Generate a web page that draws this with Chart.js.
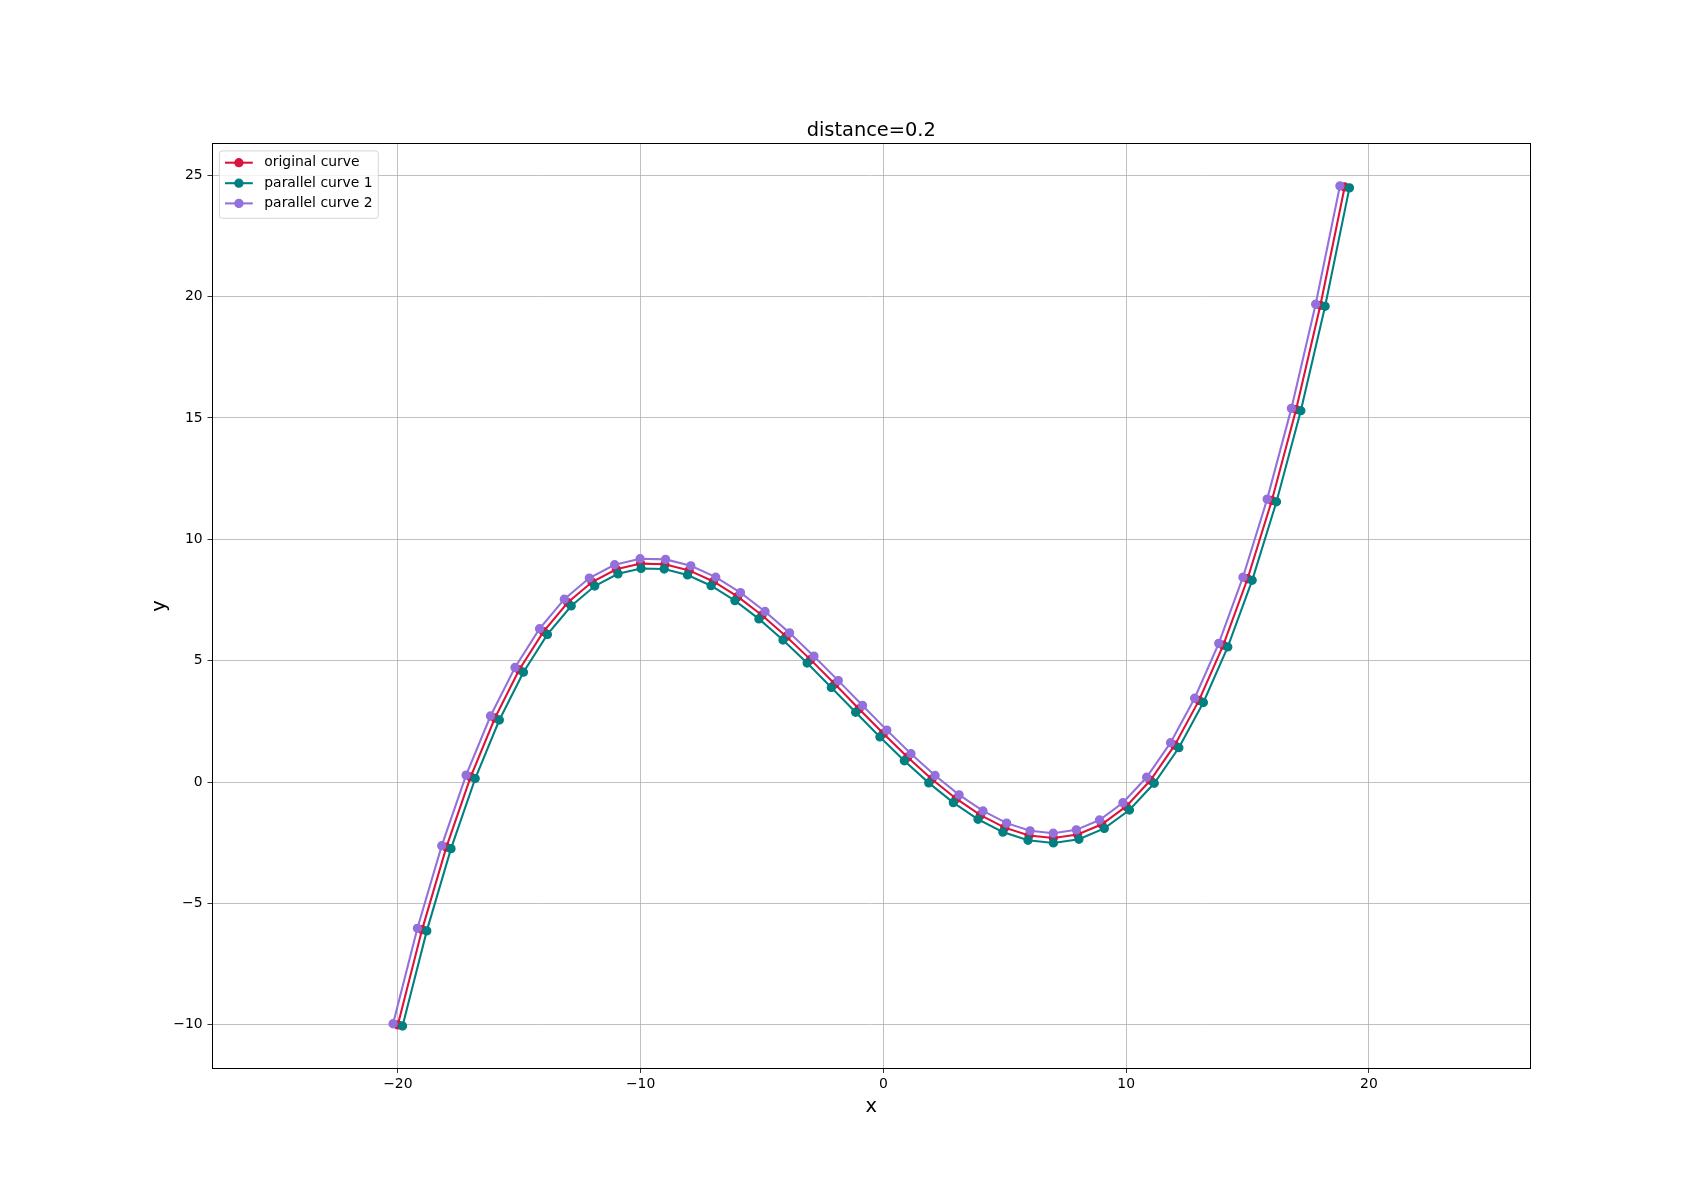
<!DOCTYPE html>
<html>
<head>
<meta charset="utf-8">
<script src="https://cdn.jsdelivr.net/npm/chart.js@4.4.1/dist/chart.umd.min.js"></script>
<style>
  html, body { margin:0; padding:0; background:#fff; }
  canvas { display:block; }
</style>
</head>
<body>
<canvas id="c" width="1700" height="1200"></canvas>
<script>
// === Data ===
const origX = [-20,-19,-18,-17,-16,-15,-14,-13,-12,-11,-10,-9,-8,-7,-6,-5,-4,-3,-2,-1,
               0,1,2,3,4,5,6,7,8,9,10,11,12,13,14,15,16,17,18,19];
const origY = [-10,-6.075,-2.68,0.215,2.64,4.625,6.2,7.395,8.24,8.765,9,8.975,8.72,8.265,7.64,6.875,6.0,5.045,4.04,3.015,
               2,1.025,0.12,-0.685,-1.36,-1.875,-2.2,-2.305,-2.16,-1.735,-1,0.075,1.52,3.365,5.64,8.375,11.6,15.345,19.64,24.515];

const par1X = [-19.805,-18.807,-17.809,-16.813,-15.818,-14.826,-13.838,-12.858,-11.888,-10.930,-9.980,-9.029,-8.068,-7.096,-6.115,-5.127,-4.135,-3.140,-2.143,-1.143,
               -0.141,0.863,1.870,2.881,3.897,4.922,5.957,7.003,8.054,9.100,10.134,11.156,12.171,13.180,14.186,15.190,16.192,17.194,18.195,19.196];
const par1Y = [-10.046,-6.128,-2.741,0.145,2.557,4.527,6.083,7.255,8.075,8.578,8.801,8.777,8.532,8.089,7.476,6.721,5.853,4.903,3.900,2.875,
               1.859,0.880,-0.032,-0.845,-1.532,-2.059,-2.395,-2.505,-2.353,-1.908,-1.149,-0.050,1.416,3.278,5.566,8.311,11.545,15.297,19.597,24.477];

const par2X = [-20.195,-19.193,-18.191,-17.187,-16.182,-15.174,-14.162,-13.142,-12.112,-11.070,-10.020,-8.971,-7.932,-6.904,-5.885,-4.873,-3.865,-2.860,-1.857,-0.857,
               0.141,1.137,2.130,3.119,4.103,5.078,6.043,6.997,7.946,8.900,9.866,10.844,11.829,12.820,13.814,14.810,15.808,16.806,17.805,18.804];
const par2Y = [-9.954,-6.022,-2.619,0.286,2.723,4.723,6.317,7.535,8.405,8.952,9.199,9.173,8.908,8.441,7.804,7.029,6.147,5.188,4.180,3.155,
               2.141,1.170,0.272,-0.525,-1.189,-1.691,-2.005,-2.105,-1.967,-1.562,-0.851,0.200,1.624,3.453,5.714,8.439,11.655,15.393,19.683,24.553];

const seriesNames = ['original curve', 'parallel curve 1', 'parallel curve 2'];
const seriesColors = ['#dc143c', '#008080', '#9370db'];

const xTicks = [-20, -10, 0, 10, 20];
const yTicks = [-10, -5, 0, 5, 10, 15, 20, 25];
const xRange = [-27.633, 26.634];
const yRange = [-11.776, 26.283];

const FONT = "'DejaVu Sans', 'Liberation Sans', sans-serif";
const pts = (xs, ys) => xs.map((x, i) => ({x, y: ys[i]}));
const fmt = v => String(v).replace('-', '\u2212');

function ds(i, xs, ys, order){
  return {
    label: seriesNames[i], data: pts(xs, ys), showLine: true, order,
    borderColor: seriesColors[i], backgroundColor: seriesColors[i],
    borderWidth: 2.08, pointRadius: 4, pointBorderWidth: 1.3,
    pointBackgroundColor: seriesColors[i], pointBorderColor: seriesColors[i],
    tension: 0
  };
}

// === Title, axis labels, frame, legend ===
const decor = {
  id: 'decor',
  afterDraw(chart){
    const ctx = chart.ctx, a = chart.chartArea;
    ctx.save();
    // axes frame, snapped to whole pixels like matplotlib
    ctx.strokeStyle = '#000'; ctx.lineWidth = 1;
    ctx.strokeRect(212.5, 143.5, 1318, 925);

    ctx.fillStyle = '#000';
    ctx.font = `19.4px ${FONT}`;
    ctx.textAlign = 'center'; ctx.textBaseline = 'alphabetic';
    const cx = (a.left + a.right) / 2;
    ctx.fillText('distance=0.2', cx, a.top - 8.3);
    ctx.fillText('x', cx, 1111.5);
    ctx.save();
    ctx.translate(165, (a.top + a.bottom) / 2);
    ctx.rotate(-Math.PI / 2);
    ctx.fillText('y', 0, 0);
    ctx.restore();

    // legend box
    const lx = 219.4, ly = 150.9, lw = 158.9, lh = 67.4, r = 2.8;
    ctx.beginPath();
    ctx.moveTo(lx + r, ly);
    ctx.arcTo(lx + lw, ly, lx + lw, ly + lh, r);
    ctx.arcTo(lx + lw, ly + lh, lx, ly + lh, r);
    ctx.arcTo(lx, ly + lh, lx, ly, r);
    ctx.arcTo(lx, ly, lx + lw, ly, r);
    ctx.closePath();
    ctx.fillStyle = 'rgba(255,255,255,0.8)'; ctx.fill();
    ctx.strokeStyle = 'rgba(204,204,204,0.8)'; ctx.lineWidth = 1; ctx.stroke();

    const rows = [162.7, 183.2, 203.4];
    ctx.font = `13.9px ${FONT}`;
    ctx.textAlign = 'left'; ctx.textBaseline = 'middle';
    seriesNames.forEach((name, i) => {
      const y = rows[i];
      ctx.strokeStyle = seriesColors[i]; ctx.lineWidth = 2.08;
      ctx.beginPath(); ctx.moveTo(225, y); ctx.lineTo(252.8, y); ctx.stroke();
      ctx.beginPath(); ctx.arc(238.9, y, 4, 0, Math.PI * 2);
      ctx.fillStyle = seriesColors[i]; ctx.fill();
      ctx.lineWidth = 1.3; ctx.stroke();
      ctx.fillStyle = '#000';
      ctx.fillText(name, 264.3, y);
    });
    ctx.restore();
  }
};

const axisCommon = {
  type: 'linear',
  grid: { color: '#b0b0b0', lineWidth: 0.8, tickColor: '#000', tickWidth: 0.8, tickLength: 5, drawTicks: true },
  border: { display: false },
  ticks: { font: { family: FONT, size: 13.9, lineHeight: 1 }, color: '#000', padding: 4.9,
           callback: fmt, maxRotation: 0, autoSkip: false }
};

new Chart(document.getElementById('c'), {
  type: 'scatter',
  data: { datasets: [
    ds(0, origX, origY, 2),
    ds(1, par1X, par1Y, 1),
    ds(2, par2X, par2Y, 0)
  ]},
  options: {
    responsive: false, animation: false, devicePixelRatio: 1,
    layout: { padding: { left: 0, top: 144, right: 170, bottom: 0 } },
    plugins: { legend: { display: false }, title: { display: false }, tooltip: { enabled: false } },
    scales: {
      x: { ...axisCommon, min: xRange[0], max: xRange[1],
           afterBuildTicks: s => { s.ticks = xTicks.map(v => ({value: v})); },
           afterFit: s => { s.height = 132; } },
      y: { ...axisCommon, min: yRange[0], max: yRange[1],
           afterBuildTicks: s => { s.ticks = yTicks.map(v => ({value: v})); },
           afterFit: s => { s.width = 212.5; } }
    }
  },
  plugins: [decor]
});
</script>
</body>
</html>
